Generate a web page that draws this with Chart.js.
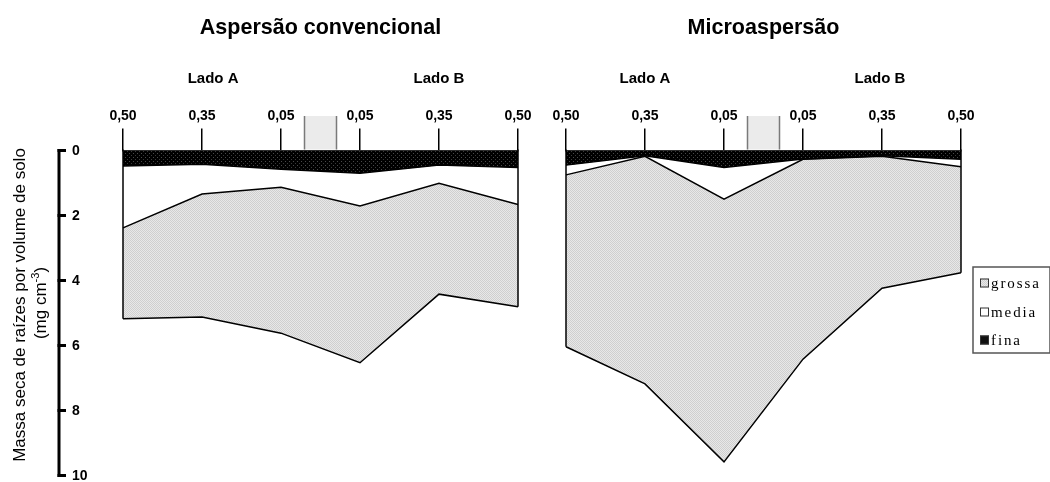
<!DOCTYPE html>
<html><head><meta charset="utf-8">
<script src="https://cdn.jsdelivr.net/npm/chart.js@4.4.1/dist/chart.umd.min.js"></script>
<style>
html,body{margin:0;padding:0;background:#fff;width:1050px;height:482px;overflow:hidden}
#a{position:absolute;left:0;top:0;width:540px;height:482px}
#b{position:absolute;left:540px;top:0;width:510px;height:482px}
</style></head><body>
<canvas id="a" width="540" height="482"></canvas>
<canvas id="b" width="510" height="482"></canvas>
<script>
// ---- data ----
const categories = ['0,50','0,35','0,05','0,05','0,35','0,50'];
const yTicks = [0, 2, 4, 6, 8, 10];
const seriesNames = ['fina', 'media', 'grossa'];
const legendOrder = ['grossa', 'media', 'fina'];
// Aspersão convencional (thickness of each layer, mg cm-3)
const convFina   = [0.48, 0.42, 0.58, 0.70, 0.45, 0.52];
const convMedia  = [1.90, 0.92, 0.55, 1.01, 0.56, 1.14];
const convGrossa = [2.80, 3.78, 4.49, 4.82, 3.41, 3.15];
// Microaspersão
const microFina   = [0.45, 0.16, 0.52, 0.26, 0.16, 0.27];
const microMedia  = [0.30, 0.02, 0.98, 0.01, 0.02, 0.23];
const microGrossa = [5.29, 7.00, 8.08, 6.15, 4.06, 3.26];

const titles = ['Aspersão convencional', 'Microaspersão'];
const sideLabels = ['Lado A', 'Lado B'];
const yTitle1 = 'Massa seca de raízes por volume de solo';
const yTitle2 = ['(mg cm', '-3', ')'];

// ---- styles ----
const SANS = '"Liberation Sans", Arial, sans-serif';
const SERIF = '"Liberation Serif", "Times New Roman", serif';
Chart.defaults.font.family = SANS;

function makePattern(size, base, dots) {
  const c = document.createElement('canvas');
  c.width = size; c.height = size;
  const g = c.getContext('2d');
  g.fillStyle = base; g.fillRect(0, 0, size, size);
  dots.forEach(d => { g.fillStyle = d[2]; g.fillRect(d[0], d[1], 1, 1); });
  return g.createPattern(c, 'repeat');
}
const greyPat = makePattern(2, '#e8e8e8', [[0,0,'#cfcfcf'],[1,1,'#cfcfcf']]);
const blackPat = makePattern(4, '#000000', [[1,1,'#4a4a4a'],[3,3,'#3a3a3a']]);
const fills = { fina: blackPat, media: '#ffffff', grossa: greyPat };

function datasets(f, m, g) {
  const vals = { fina: f, media: m, grossa: g };
  return seriesNames.map((n, i) => ({
    label: n,
    data: vals[n],
    backgroundColor: fills[n],
    borderColor: '#000',
    borderWidth: 1.5,
    pointRadius: 0,
    tension: 0,
    fill: i === 0 ? 'origin' : '-1'
  }));
}

const decoPlugin = {
  id: 'deco',
  afterDatasetsDraw(chart) {
    const ctx = chart.ctx, xs = chart.scales.x, ys = chart.scales.y;
    const n = chart.data.labels.length;
    ctx.save();
    ctx.strokeStyle = '#000'; ctx.lineWidth = 1.5;
    [0, n - 1].forEach(i => {
      let tot = 0;
      chart.data.datasets.forEach(d => tot += d.data[i]);
      const x = xs.getPixelForValue(i);
      ctx.beginPath();
      ctx.moveTo(x, ys.getPixelForValue(0) - 1);
      ctx.lineTo(x, ys.getPixelForValue(tot));
      ctx.stroke();
    });
    ctx.restore();
  },
  afterDraw(chart, args, opts) {
    const ctx = chart.ctx, xs = chart.scales.x, ys = chart.scales.y, ca = chart.chartArea;
    ctx.save();
    // title
    ctx.fillStyle = '#000';
    ctx.font = 'bold 21.5px ' + SANS;
    ctx.textAlign = 'center'; ctx.textBaseline = 'middle';
    ctx.fillText(opts.title, (ca.left + ca.right) / 2, 28);
    // Lado labels
    ctx.font = 'bold 15px ' + SANS;
    ctx.fillText(sideLabels[0], ca.left + opts.ladoA * (ca.right - ca.left), 79);
    ctx.fillText(sideLabels[1], ca.left + opts.ladoB * (ca.right - ca.left), 79);
    // grey box between the two 0,05 positions
    const x2 = xs.getPixelForValue(2), x3 = xs.getPixelForValue(3);
    const mid = (x2 + x3) / 2, hw = 16;
    ctx.fillStyle = '#ebebeb';
    ctx.fillRect(mid - hw, 116, hw * 2, ca.top - 116 - 1);
    ctx.strokeStyle = '#7a7a7a'; ctx.lineWidth = 1.5;
    ctx.beginPath();
    ctx.moveTo(mid - hw, 116); ctx.lineTo(mid - hw, ca.top - 1);
    ctx.moveTo(mid + hw, 116); ctx.lineTo(mid + hw, ca.top - 1);
    ctx.stroke();

    if (opts.yAxis) {
      const ax = 59;
      ctx.strokeStyle = '#000'; ctx.lineWidth = 3;
      ctx.beginPath();
      ctx.moveTo(ax, ys.getPixelForValue(yTicks[0]) - 1.5);
      ctx.lineTo(ax, ys.getPixelForValue(yTicks[yTicks.length - 1]) + 1.5);
      ctx.stroke();
      ctx.font = 'bold 14px ' + SANS;
      ctx.textAlign = 'left'; ctx.textBaseline = 'middle'; ctx.fillStyle = '#000';
      yTicks.forEach(v => {
        const y = ys.getPixelForValue(v);
        ctx.beginPath(); ctx.moveTo(57.5, y); ctx.lineTo(66, y); ctx.stroke();
        ctx.fillText(String(v), 72, y + 1);
      });
      // y title
      ctx.font = '17px ' + SANS;
      ctx.textBaseline = 'alphabetic';
      ctx.save();
      ctx.translate(25, 305); ctx.rotate(-Math.PI / 2);
      ctx.textAlign = 'center';
      ctx.fillText(yTitle1, 0, 0);
      ctx.restore();
      ctx.save();
      ctx.translate(46, 303); ctx.rotate(-Math.PI / 2);
      ctx.textAlign = 'left';
      ctx.font = '17px ' + SANS;
      const w1 = ctx.measureText(yTitle2[0]).width, w3 = ctx.measureText(yTitle2[2]).width;
      ctx.font = '11px ' + SANS;
      const w2 = ctx.measureText(yTitle2[1]).width;
      let sx = -(w1 + w2 + w3) / 2;
      ctx.font = '17px ' + SANS;
      ctx.fillText(yTitle2[0], sx, 0); sx += w1;
      ctx.font = '11px ' + SANS;
      ctx.fillText(yTitle2[1], sx, -7); sx += w2;
      ctx.font = '17px ' + SANS;
      ctx.fillText(yTitle2[2], sx, 0);
      ctx.restore();
    }
    if (opts.legend) {
      const bx = 433, by = 267, bw = 77, bh = 86;
      ctx.fillStyle = '#fff';
      ctx.fillRect(bx, by, bw, bh);
      ctx.strokeStyle = '#555'; ctx.lineWidth = 1.5;
      ctx.strokeRect(bx, by, bw, bh);
      const rows = [283, 312, 340];
      ctx.font = '15px ' + SERIF;
      ctx.textAlign = 'left'; ctx.textBaseline = 'middle';
      legendOrder.forEach((n, i) => {
        const y = rows[i];
        ctx.fillStyle = n === 'fina' ? '#111' : fills[n];
        ctx.fillRect(440, y - 4.5, 9, 9);
        ctx.strokeStyle = '#333'; ctx.lineWidth = 1;
        ctx.strokeRect(440.5, y - 4, 8, 8);
        ctx.fillStyle = '#000';
        ctx.letterSpacing = '1.9px';
        ctx.fillText(n, 451, y + 1);
        ctx.letterSpacing = '0px';
      });
    }
    ctx.restore();
  }
};

function makeChart(id, ds, padLeft, padRight, deco) {
  return new Chart(document.getElementById(id), {
    type: 'line',
    data: { labels: categories, datasets: ds },
    options: {
      responsive: false,
      animation: false,
      devicePixelRatio: 1,
      layout: { padding: { left: padLeft, right: padRight, top: 108, bottom: 6.5 } },
      plugins: { legend: { display: false }, tooltip: { enabled: false }, deco: deco },
      scales: {
        x: {
          type: 'category',
          position: 'top',
          offset: false,
          afterFit(s) { s.height = 42.5; },
          grid: { drawOnChartArea: false, drawTicks: true, tickLength: 22, color: '#000', lineWidth: 1.5 },
          border: { display: true, color: '#333', width: 1.5 },
          ticks: { color: '#000', font: { size: 14, weight: 'bold' }, padding: 4, maxRotation: 0, autoSkip: false }
        },
        y: {
          display: false,
          reverse: true,
          stacked: true,
          min: 0,
          max: 10
        }
      }
    },
    plugins: [decoPlugin]
  });
}

makeChart('a', datasets(convFina, convMedia, convGrossa), 123, 22,
  { title: titles[0], ladoA: 0.228, ladoB: 0.80, yAxis: true, legend: false });
makeChart('b', datasets(microFina, microMedia, microGrossa), 26, 89,
  { title: titles[1], ladoA: 0.20, ladoB: 0.795, yAxis: false, legend: true });
</script>
</body></html>
